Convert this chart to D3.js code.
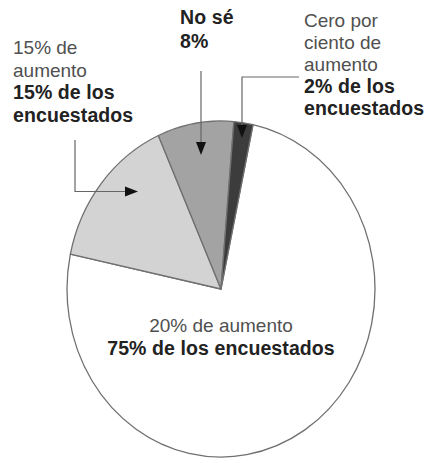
<!DOCTYPE html>
<html>
<head>
<meta charset="utf-8">
<script src="https://cdn.jsdelivr.net/npm/d3@7"></script>
<style>
	html, body { margin: 0; padding: 0; background: #fff; }
	svg { display: block; }
	text { font-family: "Liberation Sans", Arial, sans-serif; }
	.reg { fill: #505050; font-size: 19px; }
	.bold { fill: #222; font-weight: bold; font-size: 19.5px; letter-spacing: 0.1px; }
</style>
</head>
<body>
<script>
	'use strict';

	// DATA //

	// Slices, clockwise from just right of 12 o'clock:
	var categories = [ '20% de aumento', '15% de aumento', 'No sé', 'Cero por ciento de aumento' ],
		values = [ 75, 15, 8, 2 ],
		fills = [ '#ffffff', '#d3d3d3', '#a3a3a3', '#3c3c3c' ];

	// Label lines: [ text, bold? ]
	var labelCenter = [ [ '20% de aumento', false ], [ '75% de los encuestados', true ] ],
		labelLeft = [ [ '15% de', false ], [ 'aumento', false ], [ '15% de los', true ], [ 'encuestados', true ] ],
		labelTop = [ [ 'No sé', true ], [ '8%', true ] ],
		labelRight = [ [ 'Cero por', false ], [ 'ciento de', false ], [ 'aumento', false ], [ '2% de los', true ], [ 'encuestados', true ] ];


	// LAYOUT //

	var width = 428,
		height = 459,
		cx = 221,
		cy = 289,
		rx = 154,
		ry = 168,
		start = 12 * Math.PI / 180;

	var svg = d3.select( 'body' ).append( 'svg' )
		.attr( 'width', width )
		.attr( 'height', height );

	var pie = d3.pie()
		.sort( null )
		.value( function ( d ) { return d; } )
		.startAngle( start )
		.endAngle( start + 2*Math.PI );

	var arc = d3.arc()
		.innerRadius( 0 )
		.outerRadius( rx );

	// Pie drawn as a circle, stretched vertically into the ellipse:
	var graph = svg.append( 'g' )
		.attr( 'transform', 'translate(' + cx + ',' + cy + ') scale(1,' + (ry/rx) + ')' );

	graph.selectAll( 'path' )
		.data( pie( values ) )
	  .enter().append( 'path' )
		.attr( 'd', arc )
		.attr( 'fill', function ( d, i ) { return fills[ i ]; } )
		.attr( 'stroke', '#707070' )
		.attr( 'stroke-width', 1.3 )
		.attr( 'vector-effect', 'non-scaling-stroke' )
		.attr( 'stroke-linejoin', 'round' );

	// Text blocks:
	function block( lines, x, y, dy, anchor ) {
		var t = svg.append( 'text' )
			.attr( 'text-anchor', anchor || 'start' );
		lines.forEach( function ( l, i ) {
			t.append( 'tspan' )
				.attr( 'x', x )
				.attr( 'y', y + i*dy )
				.attr( 'class', l[ 1 ] ? 'bold' : 'reg' )
				.text( l[ 0 ] );
		});
	}
	block( labelCenter, cx, 332, 23, 'middle' );
	block( labelLeft, 13, 54, 22.6 );
	block( labelTop, 180, 24, 24 );
	block( labelRight, 304, 27, 22 );

	// Leader lines and arrowheads:
	var lead = svg.append( 'g' )
		.attr( 'fill', 'none' )
		.attr( 'stroke', '#666' )
		.attr( 'stroke-width', 1.2 );

	var line = d3.line();
	lead.append( 'path' ).attr( 'd', line( [ [75, 140], [75, 191.5], [128, 191.5] ] ) );
	lead.append( 'path' ).attr( 'd', line( [ [201, 71], [201, 145] ] ) );
	lead.append( 'path' ).attr( 'd', line( [ [299, 77], [242, 77], [242, 128] ] ) );

	function head( tip, dir ) {
		var l = 13, w = 5, pts;
		if ( dir === 'right' ) {
			pts = [ tip, [ tip[0]-l, tip[1]-w ], [ tip[0]-l, tip[1]+w ] ];
		} else {
			pts = [ tip, [ tip[0]-w, tip[1]-l ], [ tip[0]+w, tip[1]-l ] ];
		}
		svg.append( 'path' )
			.attr( 'd', d3.line()( pts ) + 'Z' )
			.attr( 'fill', '#111' );
	}
	head( [ 138, 191.5 ], 'right' );
	head( [ 201, 155 ], 'down' );
	head( [ 242, 138 ], 'down' );
</script>
</body>
</html>
